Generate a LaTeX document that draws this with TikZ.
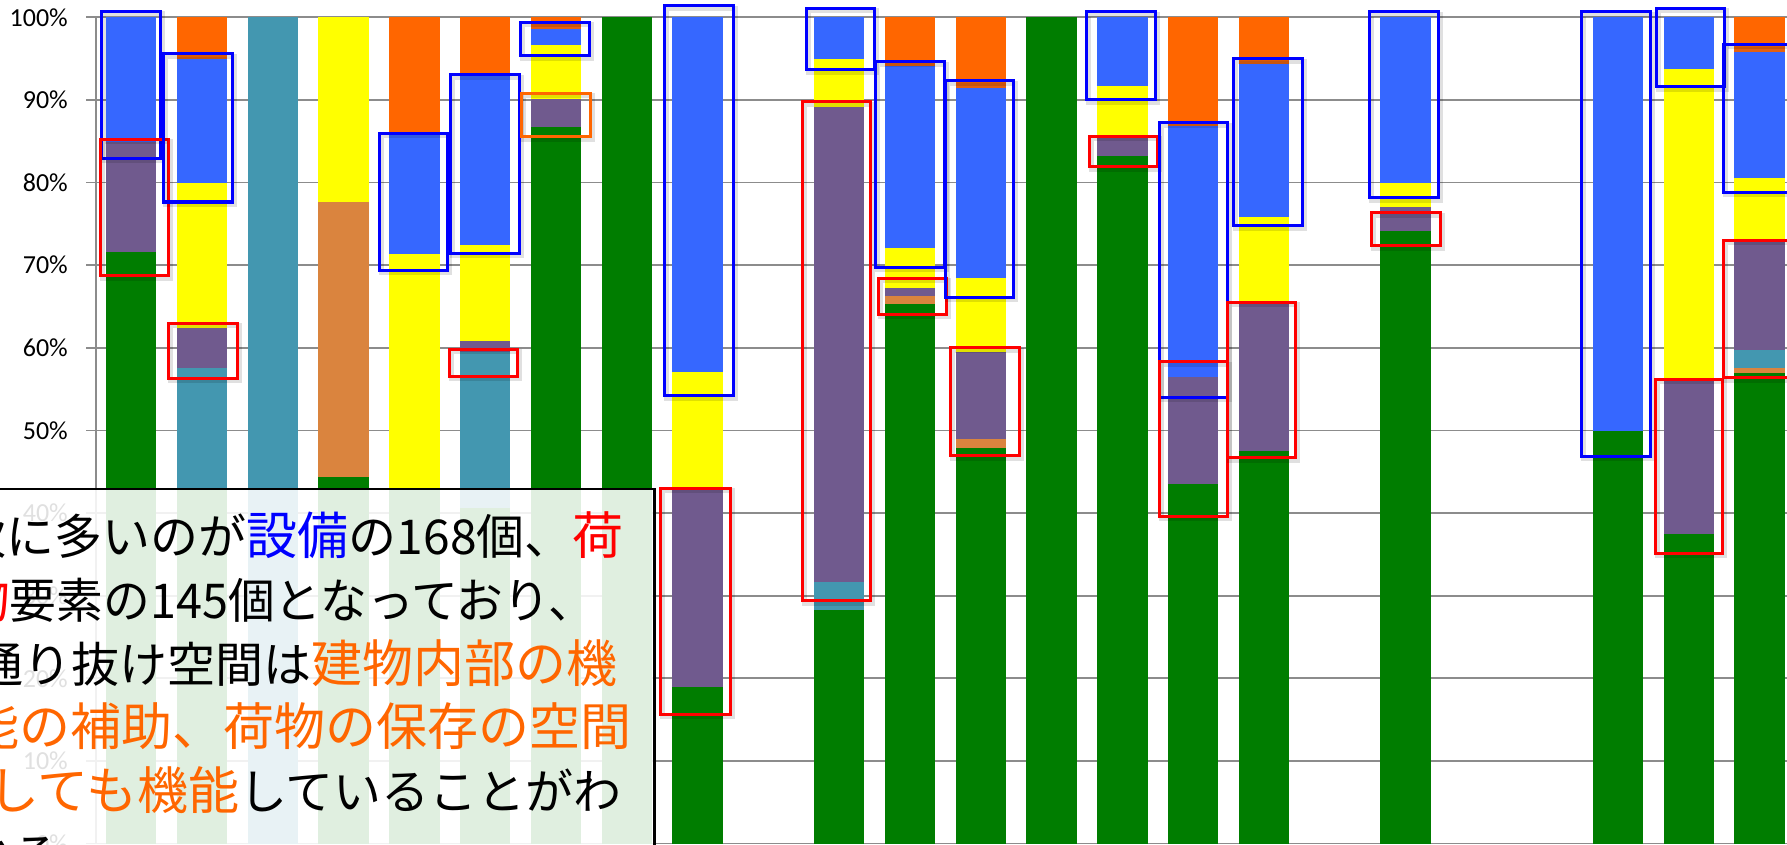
\documentclass[tikz,border=0pt]{standalone}
\usepackage{fontspec}
\setmainfont{Carlito}
\newfontfamily\jpfont{Noto Sans CJK JP}
\definecolor{cblue}{HTML}{3667FF}
\definecolor{cgreen}{HTML}{007D00}
\definecolor{cyellow}{HTML}{FFFF00}
\definecolor{corange}{HTML}{FF6600}
\definecolor{cdkorange}{HTML}{E4600F}
\definecolor{cpurple}{HTML}{705A8E}
\definecolor{cteal}{HTML}{4397B0}
\definecolor{cbrown}{HTML}{DA843E}
\definecolor{cgrid}{HTML}{8C8C8C}
\definecolor{tblue}{HTML}{0000FF}
\definecolor{tred}{HTML}{FF0000}
\definecolor{torange}{HTML}{FF6600}
\newcommand\sg[4]{\fill[#4] (#1,#2) rectangle ({#1+50.4},#3);}
\newcommand\txk{\color{black}\fontsize{48}{48}\selectfont}
\newcommand\txb{\color{tblue}\fontsize{51}{51}\selectfont}
\newcommand\txr{\color{tred}\fontsize{51}{51}\selectfont}
\newcommand\txo{\color{torange}\fontsize{51}{51}\selectfont}
\tikzset{
  grid/.style={draw=cgrid, line width=1.8pt},
  ylab/.style={anchor=east, inner sep=0pt, font=\fontsize{26}{26}\selectfont},
  shadowed/.style={preaction={draw=black, draw opacity=0.12, line width=5pt, transform canvas={shift={(2pt,-2.5pt)}}}},
  bbox/.style={shadowed, draw=tblue, line width=3pt},
  rbox/.style={shadowed, draw=tred, line width=3pt},
  obox/.style={shadowed, draw=corange, line width=3pt},
  jline/.style={inner sep=0pt, font=\jpfont},
  note/.style={draw=black, line width=2.5pt, fill=white, fill opacity=0.88}
}
\begin{document}
\begin{tikzpicture}[x=1pt,y=-1pt]
\useasboundingbox (0,0) rectangle (1787,845);
\clip (0,0) rectangle (1787,845);
\fill[white] (0,0) rectangle (1787,845);
% grid
\foreach \k in {0,...,10} {\draw[grid] (86,{17.3+\k*82.62}) -- (1787,{17.3+\k*82.62});}
\draw[grid] (96,17.3) -- (96,843.5);
\foreach \k/\t in {0/100,1/90,2/80,3/70,4/60,5/50,6/40,7/30,8/20,9/10,10/0}
  {\node[ylab] (lab\k) at (68,{17.3+\k*82.62}) {\t\%};}
% bars
% 1
\sg{106}{17.2}{141.7}{cblue}\sg{106}{141.7}{251.7}{cpurple}\sg{106}{251.7}{843.5}{cgreen}
% 2
\sg{176.8}{17.2}{56.7}{corange}\sg{176.8}{56.7}{59.3}{cdkorange}\sg{176.8}{59.3}{182.7}{cblue}
\sg{176.8}{182.7}{327.7}{cyellow}\sg{176.8}{327.7}{368.3}{cpurple}\sg{176.8}{368.3}{490}{cteal}\sg{176.8}{490}{843.5}{cgreen}
% 3
\sg{247.6}{17.2}{843.5}{cteal}
% 4
\sg{318.4}{17.2}{201.7}{cyellow}\sg{318.4}{201.7}{477.3}{cbrown}\sg{318.4}{477.3}{843.5}{cgreen}
% 5
\sg{389.2}{17.2}{132.7}{corange}\sg{389.2}{132.7}{254}{cblue}\sg{389.2}{254}{490}{cyellow}\sg{389.2}{490}{843.5}{cgreen}
% 6
\sg{460}{17.2}{76}{corange}\sg{460}{76}{245}{cblue}\sg{460}{245}{341}{cyellow}\sg{460}{341}{351.7}{cpurple}
\sg{460}{351.7}{508}{cteal}\sg{460}{508}{843.5}{cgreen}
% 7
\sg{530.8}{17.2}{24}{corange}\sg{530.8}{24}{29.3}{cdkorange}\sg{530.8}{29.3}{45}{cblue}\sg{530.8}{45}{99.3}{cyellow}
\sg{530.8}{99.3}{126.7}{cpurple}\sg{530.8}{126.7}{843.5}{cgreen}
% 8
\sg{601.6}{17.2}{843.5}{cgreen}
% 9
\sg{672.4}{17.2}{371.7}{cblue}\sg{672.4}{371.7}{490}{cyellow}\sg{672.4}{490}{686.7}{cpurple}\sg{672.4}{686.7}{843.5}{cgreen}
% 11
\sg{814}{17.2}{59}{cblue}\sg{814}{59}{107.3}{cyellow}\sg{814}{107.3}{582.3}{cpurple}\sg{814}{582.3}{609.7}{cteal}\sg{814}{609.7}{843.5}{cgreen}
% 12
\sg{884.8}{17.2}{63.3}{corange}\sg{884.8}{63.3}{65.7}{cdkorange}\sg{884.8}{65.7}{248.3}{cblue}\sg{884.8}{248.3}{287.7}{cyellow}
\sg{884.8}{287.7}{295.7}{cpurple}\sg{884.8}{295.7}{303.7}{cbrown}\sg{884.8}{303.7}{843.5}{cgreen}
% 13
\sg{955.6}{17.2}{83.3}{corange}\sg{955.6}{83.3}{87.7}{cdkorange}\sg{955.6}{87.7}{277.7}{cblue}\sg{955.6}{277.7}{352.3}{cyellow}
\sg{955.6}{352.3}{439.3}{cpurple}\sg{955.6}{439.3}{447.7}{cbrown}\sg{955.6}{447.7}{843.5}{cgreen}
% 14
\sg{1026.4}{17.2}{843.5}{cgreen}
% 15
\sg{1097.2}{17.2}{86}{cblue}\sg{1097.2}{86}{138.3}{cyellow}\sg{1097.2}{138.3}{155.7}{cpurple}\sg{1097.2}{155.7}{843.5}{cgreen}
% 16
\sg{1168}{17.2}{123.3}{corange}\sg{1168}{123.3}{126}{cdkorange}\sg{1168}{126}{376.7}{cblue}\sg{1168}{376.7}{484.3}{cpurple}\sg{1168}{484.3}{843.5}{cgreen}
% 17
\sg{1238.8}{17.2}{61}{corange}\sg{1238.8}{61}{64.3}{cdkorange}\sg{1238.8}{64.3}{217.3}{cblue}\sg{1238.8}{217.3}{304}{cyellow}
\sg{1238.8}{304}{450.7}{cpurple}\sg{1238.8}{450.7}{843.5}{cgreen}
% 19
\sg{1380.4}{17.2}{183.3}{cblue}\sg{1380.4}{183.3}{207}{cyellow}\sg{1380.4}{207}{230.7}{cpurple}\sg{1380.4}{230.7}{843.5}{cgreen}
% 22
\sg{1592.8}{17.2}{431}{cblue}\sg{1592.8}{431}{843.5}{cgreen}
% 23
\sg{1663.6}{17.2}{69.3}{cblue}\sg{1663.6}{69.3}{380}{cyellow}\sg{1663.6}{380}{534.3}{cpurple}\sg{1663.6}{534.3}{843.5}{cgreen}
% 24
\sg{1734.4}{17.2}{46.7}{corange}\sg{1734.4}{46.7}{52.3}{cdkorange}\sg{1734.4}{52.3}{177.7}{cblue}\sg{1734.4}{177.7}{242.3}{cyellow}
\sg{1734.4}{242.3}{350}{cpurple}\sg{1734.4}{350}{368.3}{cteal}\sg{1734.4}{368.3}{373.3}{cbrown}\sg{1734.4}{373.3}{843.5}{cgreen}
% highlight boxes
\draw[bbox] (101.5,11.5) rectangle (160.5,158.3);
\draw[rbox] (100,139.3) rectangle (168.8,275.7);
\draw[bbox] (163,54) rectangle (232,202);
\draw[rbox] (168.4,323.3) rectangle (237.3,378.3);
\draw[bbox] (379,133.3) rectangle (447,270);
\draw[bbox] (450.4,75) rectangle (519.3,253.3);
\draw[rbox] (449,349) rectangle (517.8,376);
\draw[bbox] (520,22.3) rectangle (589,55.7);
\draw[obox] (521,93.3) rectangle (590,136.7);
\draw[bbox] (664.2,5.7) rectangle (733.1,395.7);
\draw[rbox] (660.5,488.3) rectangle (730,714.3);
\draw[bbox] (806.2,8.3) rectangle (874.7,70);
\draw[rbox] (802.5,102) rectangle (870.5,600.7);
\draw[bbox] (875.8,61.7) rectangle (944.3,267);
\draw[rbox] (878.5,278.3) rectangle (946.6,314.3);
\draw[bbox] (945.5,81) rectangle (1013.6,297.3);
\draw[rbox] (950.5,347.7) rectangle (1019,455.7);
\draw[bbox] (1086.7,11.7) rectangle (1155.2,100);
\draw[rbox] (1089.4,136.3) rectangle (1157.9,166.7);
\draw[bbox] (1159,122.7) rectangle (1227.2,397.3);
\draw[rbox] (1159,361.7) rectangle (1227.2,516.2);
\draw[bbox] (1233.4,58.7) rectangle (1302.3,225.7);
\draw[rbox] (1227.2,302) rectangle (1295.4,457.7);
\draw[bbox] (1369.7,11.7) rectangle (1438.6,197.7);
\draw[rbox] (1371.2,212.7) rectangle (1440.2,245.7);
\draw[bbox] (1581,11.7) rectangle (1650,456);
\draw[bbox] (1656.2,8.3) rectangle (1724,86.7);
\draw[rbox] (1655,379) rectangle (1722.7,553.3);
\draw[bbox] (1723,44.5) rectangle (1800,192.3);
\draw[rbox] (1723.3,240) rectangle (1800,377.7);
% note box
\path[note] (-10,489) rectangle (654.3,860);
\node[jline, anchor=base east] (l1) at (624,554) {\txk 次に多いのが\txb 設備\txk の168個、\txr 荷};
\node[jline, anchor=base west] (l2) at (-40,618) {\resizebox{635pt}{\height}{\txr 物\txk 要素の145個となっており、}};
\node[jline, anchor=base east] (l3) at (618,682) {\txk 通り抜け空間は\txo 建物内部の機};
\node[jline, anchor=base east] (l4) at (632,745) {\txo 能の補助、荷物の保存の空間};
\node[jline, anchor=base east] (l5) at (622,809) {\txo としても機能\txk していることがわ};
\node[jline, anchor=base west] (l6) at (-36,873) {\txk かる。};
\end{tikzpicture}
\end{document}
